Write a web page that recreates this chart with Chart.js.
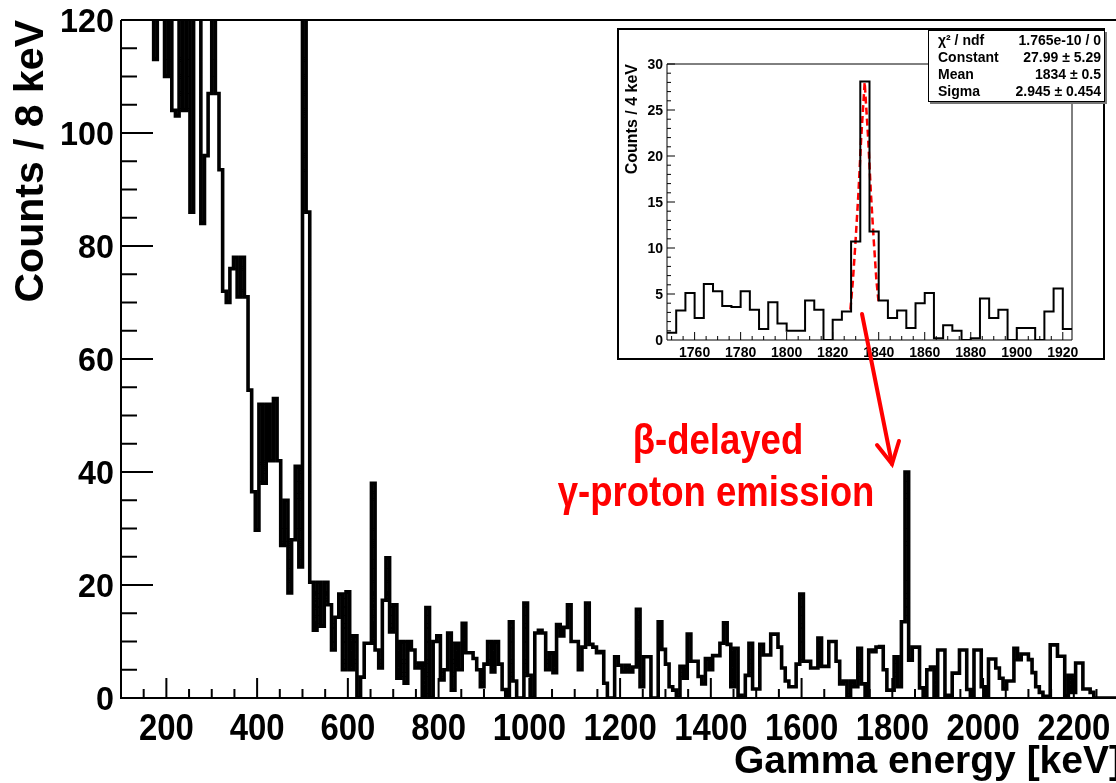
<!DOCTYPE html>
<html lang="en">
<head>
<meta charset="utf-8">
<title>Gamma energy spectrum</title>
<script src="https://cdn.jsdelivr.net/npm/chart.js@4.4.1/dist/chart.umd.min.js"></script>
<style>
    html, body { margin: 0; padding: 0; background: #fff; overflow: hidden; }
    #wrap { position: relative; width: 1116px; height: 783px; overflow: hidden; }
    #mainChart { position: absolute; left: 0; top: 0; }
    #insetPad { position: absolute; left: 617px; top: 28px; width: 488px; height: 332px; box-sizing: border-box; border: 2px solid #000; background: #fff; }
    #insetChart { position: absolute; left: 0; top: 0; }
    #stats { position: absolute; left: 928px; top: 30px; width: 177px; height: 72px; box-sizing: border-box; border: 1px solid #000; background: #fff; box-shadow: 2px 2px 0 #777; padding: 1px 3px 0 9px; font: bold 14px "Liberation Sans", Arial, sans-serif; color: #000; }
    #stats .row { display: flex; justify-content: space-between; height: 17px; line-height: 17px; }
    #notes { position: absolute; left: 0; top: 0; }
</style>
</head>
<body>
<div id="wrap">
    <canvas id="mainChart" width="1116" height="783"></canvas>
    <div id="insetPad"><canvas id="insetChart" width="484" height="328"></canvas></div>
    <div id="stats"></div>
    <svg id="notes" width="1116" height="783" xmlns="http://www.w3.org/2000/svg">
        <g fill="#ff0000" font-family="'Liberation Sans', Arial, sans-serif" font-weight="bold" font-size="42" text-anchor="middle">
            <text x="718" y="454" transform="translate(718,0) scale(0.87,1) translate(-718,0)">β-delayed</text>
            <text x="716" y="506" transform="translate(716,0) scale(0.87,1) translate(-716,0)">γ-proton emission</text>
        </g>
        <g stroke="#ff0000" stroke-width="4" fill="none" stroke-linecap="round">
            <line x1="862" y1="314" x2="892" y2="464"/>
            <polyline points="899,441 892,464 877,445"/>
        </g>
    </svg>
</div>
<script>
// 主スペクトル (8 keV ビン)
const binStart = 100;
const binWidth = 8;
const mainCounts = [
    140, 140, 140, 140, 140, 140, 140, 140, 140, 113,
    140, 140, 110, 140, 104, 103, 140, 104, 140, 86,
    140, 140, 84, 96, 107, 140, 107, 93.5, 72, 70,
    76, 78, 71, 78, 71, 54.5, 36.5, 29.7, 52, 38,
    52, 42, 53, 42, 27, 35, 18.6, 28, 41, 23.2,
    140, 86, 20.5, 12, 20.5, 12.7, 20.5, 16.5, 8.5, 14.3,
    18.4, 5, 18.8, 5, 11, 0, 3.7, 9.7, 9.7, 38,
    8.5, 5.3, 17.3, 24.8, 11.7, 16.5, 3.5, 10, 2.6, 10,
    8.5, 5.3, 6.2, 0, 16, 0, 10, 11, 3.2, 5,
    11.5, 1.4, 9.7, 5, 13.2, 8, 8, 7, 5, 2,
    6, 10, 4.6, 10, 6, 1.5, 0, 13.5, 3, 0,
    0, 16.8, 4, 0, 11.5, 12, 11.5, 5, 8, 4.5,
    13, 11, 12.5, 16.5, 10, 10, 5, 9, 16.8, 9.5,
    9, 8, 8.2, 2.6, 0, 0, 7.3, 5.8, 4.6, 5.8,
    4.6, 5.5, 15.7, 2, 7.3, 7.3, 0, 0, 13.5, 8.6,
    6, 2, 1.4, 0, 5.6, 3.5, 11.3, 6.5, 6.5, 3.8,
    2.5, 7, 5, 7.5, 7.5, 9.7, 13.3, 9.5, 2, 8.8,
    0.5, 0, 4, 9.7, 1.6, 1.6, 9.5, 7.6, 7.6, 11.3,
    11.3, 9, 5.3, 3, 2, 2, 6, 18.4, 6.5, 6.5,
    5.3, 5.3, 10.6, 5.6, 5.6, 10, 10, 6.5, 2.5, 3,
    0, 3, 2, 8.8, 2.5, 0.5, 8.5, 8.2, 9, 9.1,
    5, 1.4, 1.4, 7.3, 2, 13.5, 40, 6.7, 9, 9,
    1.8, 0, 5, 5.5, 0.5, 8.5, 8.5, 0.5, 0.3, 4.4,
    4.4, 8.5, 8.5, 1.5, 0.5, 8.5, 8.5, 2, 0.3, 6.9,
    6.9, 5.3, 3.5, 1.6, 3, 3, 8.8, 6.8, 7.8, 7.8,
    6.8, 4.5, 2, 1, 0.3, 0.3, 9.4, 9.4, 7.4, 7.4,
    0.3, 4, 1, 6.2, 6.2, 1.6, 1.6, 1, 0, 0,
    0, 0, 0, 0, 0
];
const mainXTicks = [200, 400, 600, 800, 1000, 1200, 1400, 1600, 1800, 2000, 2200];
const mainYTicks = [0, 20, 40, 60, 80, 100, 120];

// 挿入図 (4 keV ビン, 1834 keV 付近)
const insetStart = 1748;
const insetWidth = 4;
const insetCounts = [
    0.8, 3.2, 5.1, 2.4, 6.1, 5.3, 3.7, 3.6, 5.3, 3.3,
    1.2, 4.1, 1.8, 1.0, 1.0, 4.3, 3.3, 0, 2.2, 3.1,
    10.7, 28.1, 11.8, 4.3, 2.4, 3.2, 1.3, 4.0, 5.1, 0.2,
    1.6, 1.0, 0, 0.2, 4.5, 2.4, 3.3, 0, 1.3, 1.3,
    0, 3.1, 5.6, 1.2
];
const fitEnergy = [1827.7, 1828.8, 1830, 1831.2, 1832.4, 1833.9, 1835.4, 1836.6, 1837.8, 1839, 1840];
const fitCounts = [3.3, 6.5, 11, 16, 22, 28, 22, 16, 11, 6.5, 4];
const insetXTicks = [1760, 1780, 1800, 1820, 1840, 1860, 1880, 1900, 1920];
const insetYTicks = [0, 5, 10, 15, 20, 25, 30];

// フィット結果
const statLabels = ['χ² / ndf', 'Constant', 'Mean', 'Sigma'];
const statValues = ['1.765e-10 / 0', '27.99 ± 5.29', '1834 ± 0.5', '2.945 ± 0.454'];

const FONT = '"Liberation Sans", Arial, sans-serif';

// ヒストグラムの段差用の点 (ビン左端)
function toSteps(start, width, counts) {
    const pts = counts.map((c, i) => ({ x: start + i * width, y: c }));
    pts.push({ x: start + counts.length * width, y: counts[counts.length - 1] });
    return pts;
}

function eachTick(min, max, minor, major, fn) {
    for (let i = 1; ; i++) {
        const v = Math.ceil(min / minor) * minor + (i - 1) * minor;
        if (v > max + 1e-9) break;
        if (v <= min + 1e-9) continue;
        const r = v / major;
        fn(v, Math.abs(r - Math.round(r)) < 1e-6);
    }
}

function drawText(ctx, text, px, py, align, font, sx) {
    ctx.save();
    ctx.translate(px, py);
    ctx.scale(sx, 1);
    ctx.font = font;
    ctx.textAlign = align;
    ctx.textBaseline = 'alphabetic';
    ctx.fillText(text, 0, 0);
    ctx.restore();
}

// ROOT風の軸 (内向きの目盛り)
function rootAxes(cfg) {
    return {
        id: 'rootAxes',
        afterDraw(chart) {
            const { ctx, chartArea: a, scales: { x, y } } = chart;
            ctx.save();
            ctx.strokeStyle = '#000';
            ctx.fillStyle = '#000';

            ctx.lineWidth = cfg.axisWidth;
            ctx.beginPath();
            ctx.moveTo(a.left, a.top);
            ctx.lineTo(a.left, a.bottom);
            ctx.lineTo(a.right, a.bottom);
            ctx.stroke();

            ctx.lineWidth = cfg.frameWidth;
            ctx.beginPath();
            ctx.moveTo(a.left, a.top);
            ctx.lineTo(a.right, a.top);
            if (cfg.rightSide) ctx.lineTo(a.right, a.bottom);
            ctx.stroke();

            ctx.lineWidth = cfg.tickWidth;
            ctx.beginPath();
            eachTick(x.min, x.max, cfg.xMinor, cfg.xMajor, (v, major) => {
                const px = x.getPixelForValue(v);
                ctx.moveTo(px, a.bottom);
                ctx.lineTo(px, a.bottom - (major ? cfg.xMajorLen : cfg.xMinorLen));
            });
            eachTick(y.min, y.max, cfg.yMinor, cfg.yMajor, (v, major) => {
                const py = y.getPixelForValue(v);
                ctx.moveTo(a.left, py);
                ctx.lineTo(a.left + (major ? cfg.yMajorLen : cfg.yMinorLen), py);
            });
            ctx.stroke();

            cfg.xTicks.forEach(v => drawText(ctx, String(v), x.getPixelForValue(v), cfg.xLabelBase, 'center', cfg.xLabelFont, cfg.xLabelScale));
            cfg.yTicks.forEach(v => drawText(ctx, String(v), a.left - cfg.yLabelGap, y.getPixelForValue(v) + cfg.yLabelShift, 'right', cfg.yLabelFont, cfg.yLabelScale));

            if (cfg.xTitle) {
                drawText(ctx, cfg.xTitle, cfg.xTitleRight, cfg.xTitleBase, 'right', cfg.xTitleFont, 1);
            }
            ctx.save();
            ctx.translate(cfg.yTitleBase, a.top);
            ctx.rotate(-Math.PI / 2);
            ctx.font = cfg.yTitleFont;
            ctx.textAlign = 'right';
            ctx.fillText(cfg.yTitle, 0, 0);
            ctx.restore();

            ctx.restore();
        }
    };
}

Chart.defaults.font.family = FONT;

new Chart(document.getElementById('mainChart'), {
    type: 'line',
    data: {
        datasets: [{
            data: toSteps(binStart, binWidth, mainCounts),
            stepped: true,
            borderColor: '#000',
            borderWidth: 3.6,
            pointRadius: 0,
            fill: false
        }]
    },
    options: {
        responsive: false,
        animation: false,
        events: [],
        layout: { padding: { top: 20, right: 0, left: 0, bottom: 0 } },
        plugins: { legend: { display: false }, tooltip: { enabled: false } },
        scales: {
            x: {
                type: 'linear', min: 100, max: 2293,
                grid: { display: false }, border: { display: false }, ticks: { display: false },
                afterFit: s => { s.height = 85; }
            },
            y: {
                min: 0, max: 120,
                grid: { display: false }, border: { display: false }, ticks: { display: false },
                afterFit: s => { s.width = 121; }
            }
        }
    },
    plugins: [rootAxes({
        axisWidth: 2, frameWidth: 2, rightSide: false, tickWidth: 2,
        xMinor: 50, xMajor: 200, xMinorLen: 9, xMajorLen: 20,
        yMinor: 5, yMajor: 20, yMinorLen: 16, yMajorLen: 32,
        xTicks: mainXTicks, yTicks: mainYTicks,
        xLabelFont: 'bold 37px ' + FONT, xLabelScale: 0.89, xLabelBase: 740,
        yLabelFont: 'bold 34px ' + FONT, yLabelScale: 0.95, yLabelGap: 7, yLabelShift: 12,
        xTitle: 'Gamma energy [keV]', xTitleFont: 'bold 39px ' + FONT, xTitleRight: 1122, xTitleBase: 773,
        yTitle: 'Counts / 8 keV', yTitleFont: 'bold 41px ' + FONT, yTitleBase: 43
    })]
});

new Chart(document.getElementById('insetChart'), {
    type: 'line',
    data: {
        datasets: [{
            data: toSteps(insetStart, insetWidth, insetCounts),
            stepped: true,
            borderColor: '#000',
            borderWidth: 2,
            pointRadius: 0,
            fill: false
        }, {
            data: fitEnergy.map((e, i) => ({ x: e, y: fitCounts[i] })),
            borderColor: '#ff0000',
            borderWidth: 2.5,
            borderDash: [7, 4],
            pointRadius: 0,
            fill: false
        }]
    },
    options: {
        responsive: false,
        animation: false,
        events: [],
        layout: { padding: { top: 34, right: 31, left: 0, bottom: 0 } },
        plugins: { legend: { display: false }, tooltip: { enabled: false } },
        scales: {
            x: {
                type: 'linear', min: 1748, max: 1924,
                grid: { display: false }, border: { display: false }, ticks: { display: false },
                afterFit: s => { s.height = 18; }
            },
            y: {
                min: 0, max: 30,
                grid: { display: false }, border: { display: false }, ticks: { display: false },
                afterFit: s => { s.width = 48; }
            }
        }
    },
    plugins: [rootAxes({
        axisWidth: 1, frameWidth: 1, rightSide: true, tickWidth: 1,
        xMinor: 5, xMajor: 20, xMinorLen: 4, xMajorLen: 8,
        yMinor: 1, yMajor: 5, yMinorLen: 4, yMajorLen: 8,
        xTicks: insetXTicks, yTicks: insetYTicks,
        xLabelFont: 'bold 14px ' + FONT, xLabelScale: 1, xLabelBase: 327,
        yLabelFont: 'bold 14px ' + FONT, yLabelScale: 1, yLabelGap: 4, yLabelShift: 5,
        xTitle: '',
        yTitle: 'Counts / 4 keV', yTitleFont: 'bold 16px ' + FONT, yTitleBase: 18
    })]
});

// 統計ボックス
const stats = document.getElementById('stats');
statLabels.forEach((label, i) => {
    const row = document.createElement('div');
    row.className = 'row';
    const l = document.createElement('span');
    l.textContent = label;
    const r = document.createElement('span');
    r.textContent = statValues[i];
    row.appendChild(l);
    row.appendChild(r);
    stats.appendChild(row);
});
</script>
</body>
</html>
